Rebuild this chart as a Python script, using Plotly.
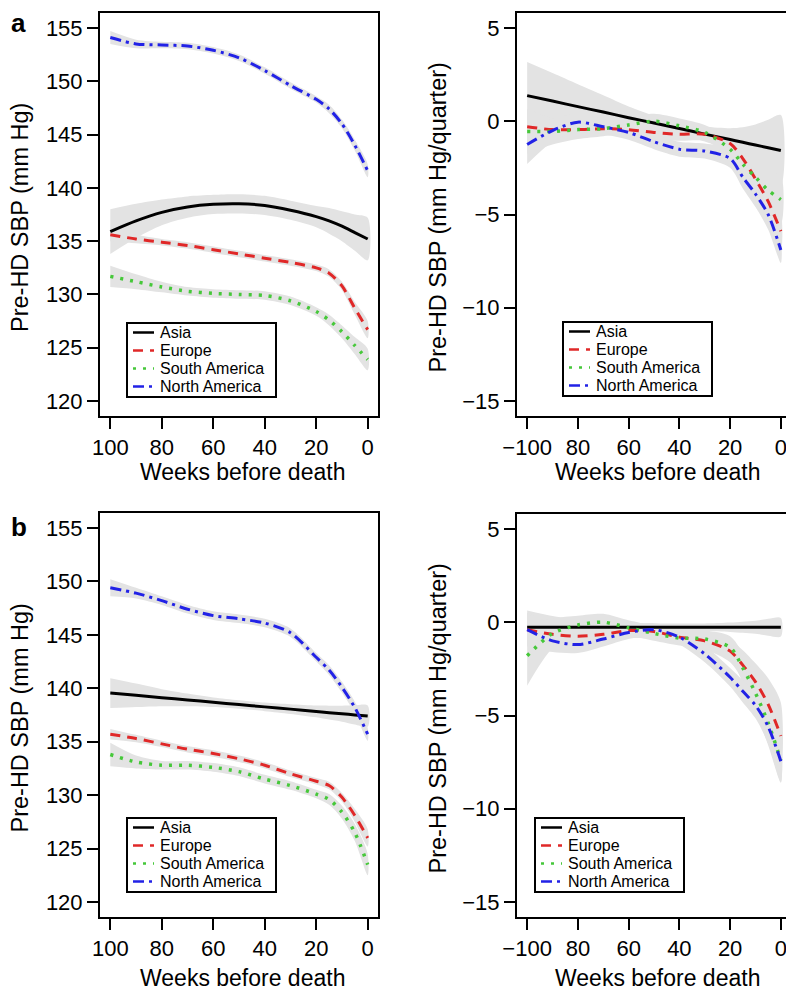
import plotly.graph_objects as go

# The page places the figure 8 px in from the top-left corner, so the figure
# is sized to the remaining visible area and positions are given in page pixels.
PAGE_OFF = 8
W, H = 794 - PAGE_OFF, 993 - PAGE_OFF

# ---------------- data ----------------
weeks_left = [100, 90, 80, 70, 60, 50, 40, 30, 20, 15, 10, 5, 0]
weeks_right = [-100, -90, -80, -70, -60, -50, -40, -30, -20, -15, -10, -5, 0]
series_names = ["Asia", "Europe", "South America", "North America"]

# panel a, left (Pre-HD SBP, mm Hg)
asia_a = [135.9, 136.9, 137.7, 138.2, 138.45, 138.5, 138.35, 137.9, 137.3, 136.9, 136.4, 135.8, 135.2]
asia_a_hw = [2.1, 1.6, 1.2, 1.0, 0.9, 0.9, 0.9, 0.9, 1.0, 1.2, 1.4, 1.7, 2.0]
europe_a = [135.6, 135.2, 134.9, 134.6, 134.2, 133.8, 133.4, 133.0, 132.5, 132.0, 130.8, 128.7, 126.7]
europe_a_hw = [0.6, 0.4, 0.3, 0.3, 0.3, 0.3, 0.3, 0.3, 0.3, 0.35, 0.4, 0.6, 0.8]
samerica_a = [131.7, 131.2, 130.7, 130.3, 130.1, 130.0, 129.9, 129.4, 128.4, 127.6, 126.5, 125.2, 123.9]
samerica_a_hw = [1.0, 0.7, 0.5, 0.4, 0.4, 0.4, 0.4, 0.4, 0.4, 0.5, 0.6, 0.8, 1.0]
namerica_a = [154.1, 153.5, 153.4, 153.3, 152.9, 152.2, 151.0, 149.6, 148.3, 147.4, 146.0, 144.0, 141.6]
namerica_a_hw = [0.6, 0.4, 0.3, 0.3, 0.3, 0.3, 0.3, 0.3, 0.3, 0.4, 0.4, 0.5, 0.6]

# panel a, right (mm Hg/quarter)
asia_ra = [1.37, 1.08, 0.78, 0.49, 0.19, -0.10, -0.39, -0.69, -0.98, -1.13, -1.28, -1.42, -1.57]
asia_ra_hw = [1.8, 1.5, 1.2, 0.9, 0.6, 0.4, 0.35, 0.4, 0.6, 0.8, 1.1, 1.5, 1.9]
europe_ra = [-0.3, -0.45, -0.45, -0.4, -0.45, -0.6, -0.7, -0.7, -1.2, -2.0, -3.1, -4.3, -5.9]
europe_ra_hw = [0.9, 0.6, 0.4, 0.35, 0.35, 0.35, 0.35, 0.35, 0.4, 0.5, 0.6, 0.8, 1.1]
samerica_ra = [-0.55, -0.55, -0.45, -0.4, -0.2, 0.0, -0.25, -0.6, -1.5, -2.3, -3.0, -3.7, -4.2]
samerica_ra_hw = [1.2, 0.7, 0.5, 0.4, 0.4, 0.4, 0.4, 0.4, 0.5, 0.6, 0.8, 1.0, 1.3]
namerica_ra = [-1.25, -0.5, -0.05, -0.3, -0.6, -1.1, -1.5, -1.6, -2.0, -3.0, -3.9, -5.0, -6.9]
namerica_ra_hw = [1.05, 0.6, 0.5, 0.4, 0.4, 0.4, 0.4, 0.4, 0.5, 0.6, 0.7, 0.8, 0.7]

# panel b, left
asia_b = [139.55, 139.34, 139.12, 138.91, 138.69, 138.48, 138.26, 138.05, 137.83, 137.72, 137.62, 137.51, 137.4]
asia_b_hw = [1.4, 1.1, 0.8, 0.6, 0.45, 0.4, 0.4, 0.45, 0.55, 0.65, 0.75, 0.9, 1.0]
europe_b = [135.7, 135.3, 134.8, 134.3, 133.9, 133.4, 132.8, 132.0, 131.3, 130.9, 129.8, 128.1, 126.0]
europe_b_hw = [0.5, 0.35, 0.3, 0.3, 0.3, 0.3, 0.3, 0.3, 0.3, 0.35, 0.4, 0.6, 0.8]
samerica_b = [133.8, 133.1, 132.8, 132.8, 132.6, 132.2, 131.5, 130.9, 130.1, 129.6, 128.4, 126.5, 123.5]
samerica_b_hw = [1.1, 0.6, 0.4, 0.4, 0.4, 0.4, 0.4, 0.4, 0.4, 0.5, 0.6, 0.8, 1.0]
namerica_b = [149.4, 148.9, 148.2, 147.4, 146.8, 146.5, 146.1, 145.2, 142.9, 141.7, 140.1, 138.2, 135.7]
namerica_b_hw = [0.8, 0.5, 0.4, 0.4, 0.4, 0.4, 0.4, 0.4, 0.4, 0.45, 0.5, 0.55, 0.6]

# panel b, right
asia_rb = [-0.27, -0.27, -0.27, -0.27, -0.27, -0.27, -0.27, -0.27, -0.27, -0.27, -0.27, -0.27, -0.27]
asia_rb_hw = [0.9, 0.6, 0.4, 0.3, 0.2, 0.2, 0.2, 0.2, 0.25, 0.3, 0.35, 0.45, 0.5]
europe_rb = [-0.4, -0.65, -0.75, -0.65, -0.45, -0.5, -0.8, -1.0, -1.55, -2.3, -3.2, -4.4, -6.1]
europe_rb_hw = [0.9, 0.6, 0.45, 0.4, 0.4, 0.4, 0.4, 0.45, 0.6, 0.8, 1.0, 1.4, 1.8]
samerica_rb = [-1.8, -0.6, -0.15, 0.0, -0.3, -0.6, -0.85, -0.9, -1.35, -2.45, -3.8, -5.4, -7.4]
samerica_rb_hw = [1.6, 0.8, 0.5, 0.45, 0.4, 0.4, 0.4, 0.45, 0.6, 0.8, 1.0, 1.2, 1.2]
namerica_rb = [-0.4, -1.0, -1.2, -0.9, -0.55, -0.4, -0.8, -1.7, -2.95, -3.7, -4.45, -5.6, -7.45]
namerica_rb_hw = [0.9, 0.6, 0.45, 0.4, 0.35, 0.35, 0.4, 0.45, 0.5, 0.6, 0.7, 0.9, 1.1]

left_ticks = [100, 80, 60, 40, 20, 0]
right_xticks = [-100, -80, -60, -40, -20, 0]
right_xticktext = ["\u2212100", "80", "60", "40", "20", "0"]
left_yticks = [120, 125, 130, 135, 140, 145, 150, 155]
right_yticks = [-15, -10, -5, 0, 5]

# ---------------- styling ----------------
FONT = "Liberation Sans, Arial, Helvetica, sans-serif"
colors = ["#000000", "#E02828", "#46C83A", "#2222E6"]
widths = [3, 3, 3.5, 3]
dashes = ["solid", "10px,7px", "3px,7px", "11px,5px,3px,5px"]
BAND = "#E3E3E3"


def px(x):
    return (x - PAGE_OFF) / W


def py(y):
    return 1 - (y - PAGE_OFF) / H


panels = [
    # suffix, x values, series, plot box (x0, x1, y0, y1) in page px, legend top-left, x-title centre y
    ("", weeks_left, [(asia_a, asia_a_hw), (europe_a, europe_a_hw), (samerica_a, samerica_a_hw), (namerica_a, namerica_a_hw)], (100, 378, 13, 416), (127, 323), 472),
    ("2", weeks_right, [(asia_ra, asia_ra_hw), (europe_ra, europe_ra_hw), (samerica_ra, samerica_ra_hw), (namerica_ra, namerica_ra_hw)], (517, 791, 13, 416), (563, 322), 472),
    ("3", weeks_left, [(asia_b, asia_b_hw), (europe_b, europe_b_hw), (samerica_b, samerica_b_hw), (namerica_b, namerica_b_hw)], (100, 378, 513, 917), (127, 818), 978),
    ("4", weeks_right, [(asia_rb, asia_rb_hw), (europe_rb, europe_rb_hw), (samerica_rb, samerica_rb_hw), (namerica_rb, namerica_rb_hw)], (517, 791, 514, 917), (535, 818), 978),
]

fig = go.Figure()
shapes = []
annotations = []

for suffix, xs, series, dom, leg, _ in panels:
    xa = "x" + suffix
    ya = "y" + suffix
    for vals, hw in series:
        upper = [v + h for v, h in zip(vals, hw)]
        lower = [v - h for v, h in zip(vals, hw)]
        fig.add_trace(go.Scatter(
            x=list(xs) + list(xs)[::-1], y=upper + lower[::-1],
            fill="toself", fillcolor=BAND, line=dict(width=0, color=BAND, shape="spline", smoothing=0.8),
            mode="lines", hoverinfo="skip", showlegend=False, xaxis=xa, yaxis=ya))
    for i, (vals, hw) in enumerate(series):
        fig.add_trace(go.Scatter(
            x=xs, y=vals, mode="lines", name=series_names[i], showlegend=False,
            line=dict(color=colors[i], width=widths[i], dash=dashes[i], shape="spline", smoothing=0.8),
            xaxis=xa, yaxis=ya))

    lx, ly = leg
    shapes.append(dict(type="rect", xref="paper", yref="paper",
                       x0=px(lx), x1=px(lx + 149), y0=py(ly), y1=py(ly + 74),
                       line=dict(color="black", width=2), fillcolor="white", layer="above"))
    for i, nm in enumerate(series_names):
        yy = ly + 9.5 + 18 * i
        shapes.append(dict(type="line", xref="paper", yref="paper",
                           x0=px(lx + 6), x1=px(lx + 27), y0=py(yy), y1=py(yy),
                           line=dict(color=colors[i], width=2.5, dash=dashes[i]), layer="above"))
        annotations.append(dict(text=nm, xref="paper", yref="paper", x=px(lx + 31), y=py(yy),
                                xanchor="left", yanchor="middle", showarrow=False,
                                font=dict(family=FONT, size=16, color="black")))

axis_common = dict(showline=True, mirror=True, linecolor="black", linewidth=2,
                   ticks="outside", ticklen=11, tickwidth=2, tickcolor="black",
                   showgrid=False, zeroline=False, automargin=False,
                   tickfont=dict(family=FONT, size=22, color="black"))

layout = dict(template="none", width=W, height=H,
              margin=dict(l=0, r=0, t=0, b=0, pad=0, autoexpand=False),
              paper_bgcolor="white", plot_bgcolor="white", showlegend=False,
              font=dict(family=FONT, color="black"))

for suffix, xs, series, dom, leg, xt_y in panels:
    x0, x1, y0, y1 = dom
    xk = "xaxis" + suffix
    yk = "yaxis" + suffix
    is_left = xs is weeks_left
    xa = dict(axis_common, domain=[px(x0), px(x1)], anchor="y" + suffix)
    ya = dict(axis_common, domain=[py(y1), py(y0)], anchor="x" + suffix)
    if is_left:
        xa.update(range=[104, -4], tickvals=left_ticks)
        ya.update(range=[118.6, 156.4], tickvals=left_yticks)
    else:
        xa.update(range=[-104, 4], tickvals=right_xticks, ticktext=right_xticktext)
        ya.update(range=[-15.8, 5.8], tickvals=right_yticks)
    layout[xk] = xa
    layout[yk] = ya

    cx = (x0 + x1) / 2 + 3
    annotations.append(dict(text="Weeks before death", xref="paper", yref="paper",
                            x=px(cx), y=py(xt_y), xanchor="center", yanchor="middle",
                            showarrow=False, font=dict(family=FONT, size=23, color="black")))
    ytitle = "Pre-HD SBP (mm Hg)" if is_left else "Pre-HD SBP (mm Hg/quarter)"
    tx = 19.5 if is_left else 437
    annotations.append(dict(text=ytitle, xref="paper", yref="paper", textangle=-90,
                            x=px(tx), y=py((y0 + y1) / 2 + 3), xanchor="center", yanchor="middle",
                            showarrow=False, font=dict(family=FONT, size=23.5, color="black")))

annotations.append(dict(text="<b>a</b>", xref="paper", yref="paper", x=px(9), y=py(23),
                        xanchor="left", yanchor="middle", showarrow=False,
                        font=dict(family=FONT, size=26, color="black")))
annotations.append(dict(text="<b>b</b>", xref="paper", yref="paper", x=px(9), y=py(527),
                        xanchor="left", yanchor="middle", showarrow=False,
                        font=dict(family=FONT, size=26, color="black")))

layout["shapes"] = shapes
layout["annotations"] = annotations
fig.update_layout(**layout)
fig.write_html("out.html")
